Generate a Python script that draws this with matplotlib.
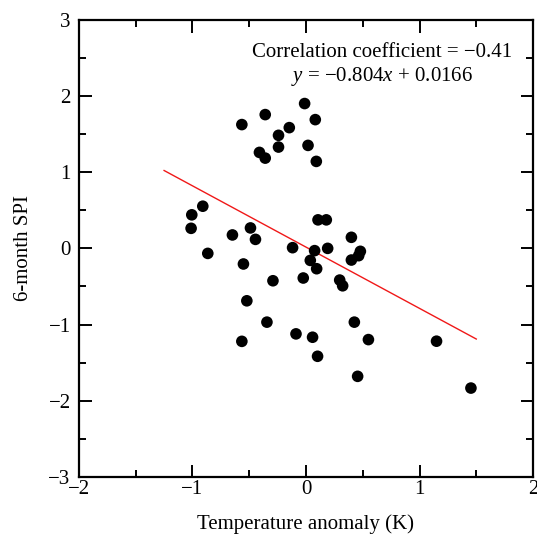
import matplotlib
matplotlib.use("Agg")
import matplotlib.pyplot as plt
from matplotlib.ticker import MultipleLocator

plt.rcParams['font.family'] = ['Liberation Serif', 'DejaVu Serif']
plt.rcParams['mathtext.fontset'] = 'custom'
plt.rcParams['mathtext.it'] = 'Liberation Serif:italic'
plt.rcParams['mathtext.rm'] = 'Liberation Serif'

# temperature anomaly (K)
temp = [-1.006, -0.909, -1.012, -0.865, -0.648, -0.489, -0.445, -0.551, -0.291, -0.521,
        -0.118, 0.106, 0.179, 0.076, 0.191, 0.038, 0.094, -0.024, 0.400, 0.479,
        0.400, 0.464, 0.297, 0.323, -0.565, -0.359, -0.012, 0.082, -0.147, -0.242,
        -0.242, -0.410, -0.359, 0.018, 0.091, -0.344, -0.565, -0.088, 0.058, 0.102,
        0.426, 0.550, 0.455, 1.150, 1.453]
# 6-month SPI
spi = [0.44, 0.553, 0.263, -0.066, 0.176, 0.268, 0.118, -0.205, -0.425, -0.688,
       0.009, 0.374, 0.374, -0.03, 0.0, -0.158, -0.267, -0.389, 0.145, -0.039,
       -0.153, -0.096, -0.416, -0.491, 1.624, 1.755, 1.90, 1.689, 1.584, 1.483,
       1.329, 1.259, 1.184, 1.351, 1.141, -0.968, -1.22, -1.122, -1.166, -1.416,
       -0.968, -1.197, -1.679, -1.218, -1.833]

slope = -0.804
intercept = 0.0166
fit_x = [-1.25, 1.5]
fit_y = [slope * v + intercept for v in fit_x]

fig = plt.figure(figsize=(5.37, 5.37), dpi=100)
ax = fig.add_axes([0.147, 0.1117, 0.8456, 0.8516])

ax.scatter(temp, spi, s=70, c='black', edgecolors='none', zorder=3)
ax.plot(fit_x, fit_y, color='#f01818', lw=1.0, zorder=2)

ax.set_xlim(-2, 2)
ax.set_ylim(-3, 3)
ax.xaxis.set_major_locator(MultipleLocator(1))
ax.xaxis.set_minor_locator(MultipleLocator(0.5))
ax.yaxis.set_major_locator(MultipleLocator(1))
ax.yaxis.set_minor_locator(MultipleLocator(0.5))

for s in ax.spines.values():
    s.set_linewidth(1.6)
ax.tick_params(which='both', direction='in', top=True, right=True, width=1.4)
ax.tick_params(which='major', length=9, labelsize=15)
ax.tick_params(which='minor', length=5)
ax.tick_params(axis='x', pad=2)
ax.tick_params(axis='y', pad=6)

ax.set_xlabel('Temperature anomaly (K)', fontsize=15, labelpad=11)
ax.set_ylabel('6-month SPI', fontsize=15, labelpad=11)

ax.text(0.673, 2.575, 'Correlation coefficient = \u22120.41', ha='center', va='center', fontsize=15)
ax.text(0.673, 2.26, '$y$ = \u22120.804$x$ + 0.0166', ha='center', va='center', fontsize=15)

fig.savefig('out.png', dpi=100)
plt.close(fig)
